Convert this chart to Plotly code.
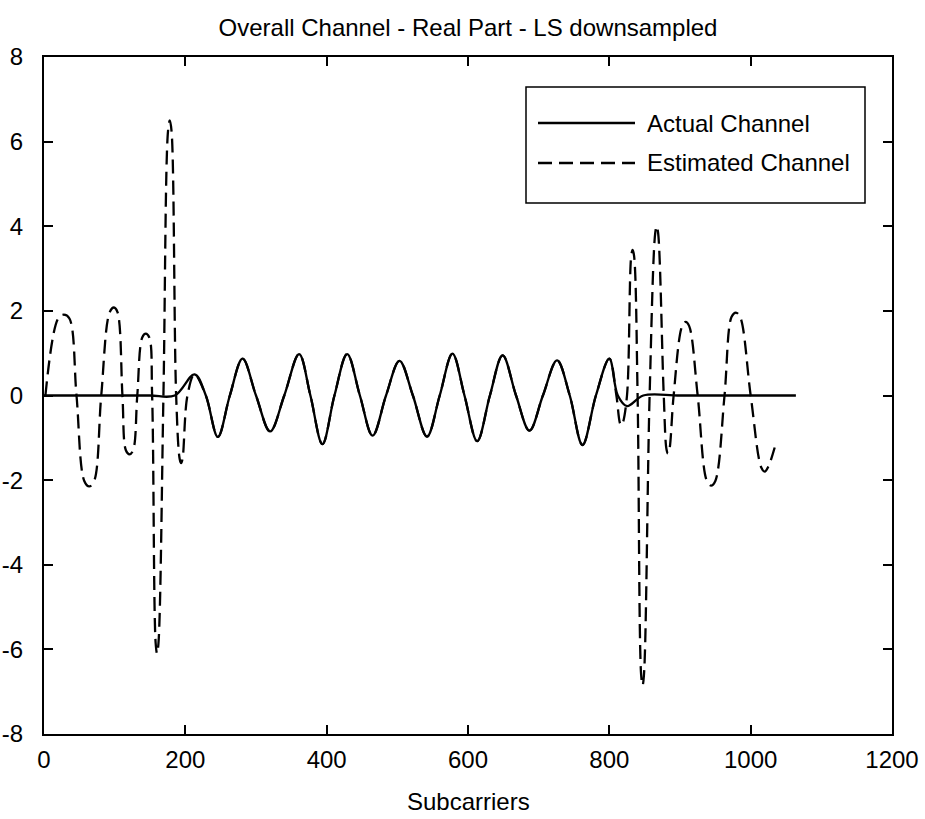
import plotly.graph_objects as go

# ---------------- data ----------------
# Actual channel: flat zero on the left, oscillating band, flat zero on the right
act_left_x = [0, 100, 150, 185]
act_left_y = [0, 0, 0, 0]

# shared band (estimate coincides with the actual channel here)
mid_x = [213, 229, 246, 263, 281, 300, 320, 340, 361, 377, 394, 411, 429, 447,
         465, 484, 503, 522, 542, 560, 578, 595, 613, 631, 649, 668, 687, 706,
         726, 744, 762, 781, 800]
mid_y = [0.50, 0, -0.98, 0, 0.87, 0, -0.85, 0, 0.98, 0, -1.15, 0, 0.98, 0,
         -0.95, 0, 0.82, 0, -0.97, 0, 0.99, 0, -1.08, 0, 0.95, 0, -0.83, 0,
         0.83, 0, -1.17, 0, 0.87]

act_right_x = [812, 825, 848, 900, 1000, 1064]
act_right_y = [0, -0.25, 0, 0, 0, 0]

# Estimated channel (LS downsampled) outside the band
est_left_x = [2, 20, 28, 36, 46, 57, 64, 71, 81, 93, 99, 104, 111, 116, 121, 126,
              132, 139, 144, 149, 153, 158, 160, 162, 169, 175.5, 178, 180.5, 187,
              192, 194, 196, 203]
est_left_y = [0, 1.82, 1.91, 1.82, 0, -2.02, -2.15, -2.02, 0, 1.97, 2.08, 1.97, 0,
              -1.3, -1.39, -1.3, 0, 1.37, 1.46, 1.37, 0, -5.85, -6.1, -5.85, 0,
              6.25, 6.5, 6.25, 0, -1.5, -1.6, -1.5, 0]

est_right_x = [810, 815, 817, 819, 825, 831, 833, 835, 840, 845, 847, 849, 857,
               865, 867, 869, 877, 881, 883, 885, 891, 903, 908, 913, 925,
               938, 944, 950, 963, 973, 979, 985, 1000, 1015, 1020, 1025, 1034]
est_right_y = [0, -0.65, -0.7, -0.65, 0, 3.3, 3.44, 3.3, 0, -6.6, -6.85, -6.6, 0,
               3.85, 4.0, 3.85, 0, -1.28, -1.37, -1.28, 0, 1.64, 1.74, 1.64, 0,
               -2.02, -2.13, -2.02, 0, 1.86, 1.96, 1.86, 0, -1.7, -1.8, -1.68, -1.23]

x_ticks = [0, 200, 400, 600, 800, 1000, 1200]
x_tick_text = ["0", "200", "400", "600", "800", "1000", "1200"]
y_ticks = [-8, -6, -4, -2, 0, 2, 4, 6, 8]
y_tick_text = ["-8", "-6", "-4", "-2", "0", "2", "4", "6", "8"]

series_names = ["Actual Channel", "Estimated Channel"]
title_text = "Overall Channel - Real Part - LS downsampled"
x_title = "Subcarriers"

# ---------------- figure ----------------
FONT = "Liberation Sans, Arial, Helvetica, sans-serif"
FS = 24
DASH = "14px,7px"
LW = 2.3

actual_x = act_left_x + mid_x + act_right_x
actual_y = act_left_y + mid_y + act_right_y
est_x = est_left_x + mid_x + est_right_x
est_y = est_left_y + mid_y + est_right_y

fig = go.Figure()
fig.add_trace(go.Scatter(x=est_x, y=est_y, mode="lines", name=series_names[1],
                         line=dict(color="black", width=LW, dash=DASH,
                                   shape="spline", smoothing=1.0),
                         showlegend=False))
fig.add_trace(go.Scatter(x=actual_x, y=actual_y, mode="lines", name=series_names[0],
                         line=dict(color="black", width=LW,
                                   shape="spline", smoothing=1.0),
                         showlegend=False))

W, H = 925, 819
L, R, T, B = 44, 33, 57, 85
pw, ph = W - L - R, H - T - B

def px(xp):
    return (xp - L) / pw

def py(yp):
    return (H - B - yp) / ph

# MATLAB-style legend box
fig.add_shape(type="rect", xref="paper", yref="paper",
              x0=px(526), x1=px(865), y0=py(203), y1=py(87),
              line=dict(color="black", width=1.5), fillcolor="white", layer="above")
fig.add_shape(type="line", xref="paper", yref="paper",
              x0=px(538), x1=px(635), y0=py(123), y1=py(123),
              line=dict(color="black", width=LW))
fig.add_shape(type="line", xref="paper", yref="paper",
              x0=px(538), x1=px(635), y0=py(163), y1=py(163),
              line=dict(color="black", width=LW, dash=DASH))
for name, yy in zip(series_names, [123, 163]):
    fig.add_annotation(xref="paper", yref="paper", x=px(645), y=py(yy),
                       text=name, showarrow=False, xanchor="left", yanchor="middle",
                       font=dict(family=FONT, size=FS, color="black"))

fig.add_annotation(xref="paper", yref="paper", x=0.5, y=py(801),
                   text=x_title, showarrow=False, xanchor="center", yanchor="middle",
                   font=dict(family=FONT, size=FS, color="black"))

fig.update_layout(
    width=W, height=H,
    margin=dict(l=L, r=R, t=T, b=B, pad=0, autoexpand=False),
    paper_bgcolor="white", plot_bgcolor="white",
    font=dict(family=FONT, size=FS, color="black"),
    title=dict(text=title_text, x=0.5, xref="paper",
               y=1 - 28 / H, yref="container", xanchor="center", yanchor="middle",
               font=dict(family=FONT, size=FS, color="black")),
    showlegend=False,
)
fig.update_xaxes(range=[0, 1200], tickvals=x_ticks, ticktext=x_tick_text,
                 ticks="inside", ticklen=9, tickwidth=1.5, tickcolor="black",
                 showline=True, linewidth=2, linecolor="black", mirror="allticks",
                 showgrid=False, zeroline=False, ticklabelstandoff=3, automargin=False)
fig.update_yaxes(range=[-8, 8], tickvals=y_ticks, ticktext=y_tick_text,
                 ticks="inside", ticklen=9, tickwidth=1.5, tickcolor="black",
                 showline=True, linewidth=2, linecolor="black", mirror="allticks",
                 showgrid=False, zeroline=False, ticklabelstandoff=14, automargin=False)

fig.write_html("out.html",
               config={"displayModeBar": False},
               post_script="document.body.style.margin='0';"
                           "document.body.style.overflow='hidden';")
